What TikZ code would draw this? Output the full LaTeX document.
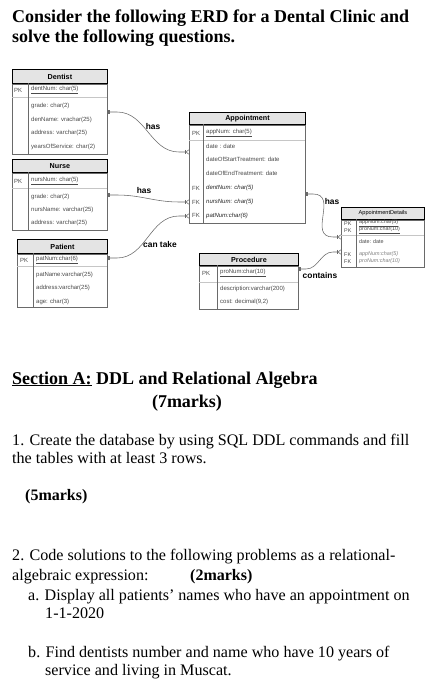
\documentclass[tikz,border=0pt]{standalone}
\usepackage{fontspec}
\setmainfont{Liberation Serif}
\newfontfamily\erd{Liberation Sans}
\usetikzlibrary{arrows.meta}

\definecolor{hdrgray}{HTML}{E4E4E4}
\definecolor{linegray}{HTML}{6A6A6A}
\definecolor{txtgray}{HTML}{4A4A4A}

\tikzset{
  hdr/.style={draw=black, line width=0.9pt, fill=hdrgray, anchor=north west, inner sep=0pt,
    font=\erd\bfseries\fontsize{7.2}{8}\selectfont},
  tbl/.style={draw=linegray, line width=0.6pt},
  sep/.style={draw=gray!45, line width=0.4pt},
  attr/.style={anchor=west, inner sep=0pt, text=txtgray, font=\erd\fontsize{6}{7}\selectfont},
  fkey/.style={attr, font=\erd\itshape\fontsize{6}{7}\selectfont, text=black!85},
  small/.style={attr, font=\erd\fontsize{5.4}{6}\selectfont},
  conn/.style={draw=linegray, line width=0.55pt,
    {Bar[width=4pt,sep=1pt]Bar[width=4pt]}-{Bar[width=4pt,sep=0.5pt]Straight Barb[reversed,length=2.5pt,width=4.5pt]}},
  rel/.style={inner sep=0pt, font=\erd\bfseries\fontsize{8.4}{9}\selectfont},
  body/.style={anchor=base west, inner sep=0pt, font=\fontsize{16.1}{19}\selectfont},
  bodyb/.style={body, font=\bfseries\fontsize{16}{19}\selectfont},
  big/.style={body, font=\bfseries\fontsize{18}{20}\selectfont}
}

\begin{document}
\begin{tikzpicture}[x=1pt,y=-1pt]
  \path[use as bounding box, fill=white] (0,0) rectangle (440,700);

  % title
  \node[big] (title1) at (12,23) {Consider the following ERD for a Dental Clinic and};
  \node[big] (title2) at (12,43) {solve the following questions.};

  % Dentist
  \node[hdr, minimum width=95pt, minimum height=14pt] (dentist) at (12,69) {Dentist};
  \draw[tbl] (dentist.south west) rectangle (107,154);
  \draw[sep] (12,97) -- (107,97);
  \draw[tbl] (28,83) -- (28,154);
  \node[attr] (dentist-pk) at (14,90) {PK};
  \node[attr] (dentist-key) at (31,90) {\underline{dentNum: char(5)}};
  \foreach \a [count=\i] in {grade: char(2), denName: vrachar(25), address: varchar(25), yearsOfService: char(2)}
    \node[attr] (dentist-\i) at (31,92.5+13.5*\i) {\a};

  % Nurse
  \node[hdr, minimum width=95pt, minimum height=13pt] (nurse) at (12,159) {Nurse};
  \draw[tbl] (nurse.south west) rectangle (107,230);
  \draw[sep] (12,188) -- (107,188);
  \draw[tbl] (28,172) -- (28,230);
  \node[attr] (nurse-pk) at (14,181) {PK};
  \node[attr] (nurse-key) at (31,181) {\underline{nursNum: char(5)}};
  \foreach \a [count=\i] in {grade: char(2), nursName: varchar(25), address: varchar(25)}
    \node[attr] (nurse-\i) at (31,183.5+13.3*\i) {\a};

  % Patient
  \node[hdr, minimum width=90pt, minimum height=14pt] (patient) at (17,239) {Patient};
  \draw[tbl] (patient.south west) rectangle (107,307);
  \draw[sep] (17,266) -- (107,266);
  \draw[tbl] (33,253) -- (33,307);
  \node[attr] (patient-pk) at (20,260) {PK};
  \node[attr] (patient-key) at (36,260) {\underline{patNum:char(6)}};
  \foreach \a [count=\i] in {patName:varchar(25), address:varchar(25), age: char(3)}
    \node[attr] (patient-\i) at (36,262+13.2*\i) {\a};

  % Appointment
  \node[hdr, minimum width=116pt, minimum height=12pt] (appointment) at (189,112) {Appointment};
  \draw[tbl] (appointment.south west) rectangle (305,223);
  \draw[sep] (189,140) -- (305,140);
  \draw[tbl] (203,124) -- (203,223);
  \node[attr] (appointment-pk) at (192,133) {PK};
  \node[attr] (appointment-key) at (206,133) {\underline{appNum: char(5)}};
  \foreach \a [count=\i] in {date : date, dateOfStartTreatment: date, dateOfEndTreatment: date}
    \node[attr] (appointment-\i) at (206,132.5+13.5*\i) {\a};
  \foreach \a [count=\i] in {dentNum: char(5), nursNum: char(5), patNum:char(6)}{
    \node[attr] (appointment-fk\i) at (192,174.5+13.8*\i) {FK};
    \node[fkey] (appointment-f\i) at (206,174.5+13.8*\i) {\a};
  }

  % Procedure
  \node[hdr, minimum width=99pt, minimum height=12pt] (procedure) at (199,253) {Procedure};
  \draw[tbl] (procedure.south west) rectangle (298,309);
  \draw[sep] (199,282) -- (298,282);
  \draw[tbl] (217,265) -- (217,309);
  \node[attr] (procedure-pk) at (202,273) {PK};
  \node[attr] (procedure-key) at (220,273) {\underline{proNum:char(10)}};
  \foreach \a [count=\i] in {description:varchar(200), {cost: decimal(9,2)}}
    \node[attr] (procedure-\i) at (220,276+13*\i) {\a};

  % AppointmentDetails
  \node[hdr, minimum width=83pt, minimum height=12pt, font=\erd\fontsize{5.6}{6}\selectfont] (details) at (341,207) {AppointmentDetails};
  \draw[tbl] (details.south west) rectangle (424,267);
  \draw[sep] (341,235.5) -- (424,235.5);
  \draw[tbl] (356,219) -- (356,267);
  \foreach \a [count=\i] in {appNum:char(5), proNum:char(10)}{
    \node[small] (details-pk\i) at (344,216.5+7*\i) {PK};
    \node[small] (details-k\i) at (359,216.5+7*\i) {\underline{\a}};
  }
  \node[small] (details-1) at (359,242) {date: date};
  \foreach \a [count=\i] in {appNum:char(5), proNum:char(10)}{
    \node[small] (details-fk\i) at (344,247.5+7*\i) {FK};
    \node[small, font=\erd\itshape\fontsize{5.4}{6}\selectfont, text=gray] (details-f\i) at (359,247.5+7*\i) {\a};
  }

  % connectors
  \coordinate (dent-r) at (107,112);
  \coordinate (nurs-r) at (107,195);
  \coordinate (pat-r) at (107,258);
  \coordinate (app-in1) at (189,152);
  \coordinate (app-in2) at (189,202);
  \coordinate (app-in3) at (189,216);
  \coordinate (app-r) at (305,194);
  \coordinate (proc-r) at (298,269);
  \coordinate (det-in1) at (341,237);
  \coordinate (det-in2) at (341,252);

  \draw[conn] (dent-r) -- ++(10,0) to[out=0,in=180] ([xshift=-10pt]app-in1) -- (app-in1);
  \draw[conn] (nurs-r) -- ++(10,0) to[out=0,in=180] ([xshift=-10pt]app-in2) -- (app-in2);
  \draw[conn] (pat-r) -- ++(10,0) to[out=0,in=180] ([xshift=-10pt]app-in3) -- (app-in3);
  \draw[conn] (app-r) -- ++(8,0) to[out=0,in=180,looseness=1.4] ([xshift=-8pt]det-in1) -- (det-in1);
  \draw[conn] (proc-r) -- ++(8,0) to[out=0,in=180] ([xshift=-8pt]det-in2) -- (det-in2);

  \node[rel] (has1) at (153,127) {has};
  \node[rel] (has2) at (144,190) {has};
  \node[rel] (cantake) at (160,244) {can take};
  \node[rel] (has3) at (332,201) {has};
  \node[rel] (contains) at (320,275) {contains};

  % questions
  \node[big] (secA) at (12,384) {\underline{Section A:} DDL and Relational Algebra};
  \node[big, anchor=base] (marks7) at (187,407) {(7marks)};
  \node[body] (q1a) at (12,445) {1. Create the database by using SQL DDL commands and fill};
  \node[body] (q1b) at (12,463) {the tables with at least 3 rows.};
  \node[bodyb] (marks5) at (25,500) {(5marks)};
  \node[body] (q2a) at (12,560) {2. Code solutions to the following problems as a relational-};
  \node[body] (q2b) at (12,580.5) {algebraic expression:};
  \node[bodyb] (marks2) at (190,580.5) {(2marks)};
  \node[body] (qa1) at (28,600) {a. Display all patients’ names who have an appointment on};
  \node[body] (qa2) at (45,618) {1-1-2020};
  \node[body] (qb1) at (28,657) {b. Find dentists number and name who have 10 years of};
  \node[body] (qb2) at (45,675) {service and living in Muscat.};
\end{tikzpicture}
\end{document}
